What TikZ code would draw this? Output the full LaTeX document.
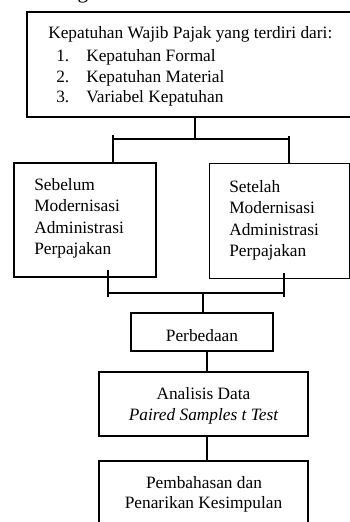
\documentclass[tikz,border=0pt]{standalone}
\usepackage{fontspec}
\setmainfont{Liberation Serif}
\usetikzlibrary{fit}
\newcommand\fsz{\fontsize{13}{15}\selectfont}
\tikzset{
  box/.style={draw, line width=1.1pt, inner sep=0pt},
  thinbox/.style={draw, line width=0.7pt, inner sep=0pt},
  conn/.style={line width=1.1pt},
  txt/.style={anchor=base west, inner sep=0pt, font=\fsz},
  ctxt/.style={anchor=base, inner sep=0pt, font=\fsz},
}
\begin{document}
\begin{tikzpicture}[x=0.75pt,y=-0.75pt]
\clip (0,0) rectangle (350,522);
\fill[white] (0,0) rectangle (350,522);
% fragment of heading above
\node[anchor=base, inner sep=0pt, font=\fontsize{16}{18}\selectfont] (hg) at (83,-1.5) {g};
% boxes
\node[box, fit={(27,12)(362,117)}] (top) {};
\node[box, fit={(14,163)(156,277)}] (left) {};
\node[thinbox, fit={(209,163)(349,278)}] (right) {};
\node[box, fit={(131,313)(273,351)}] (diff) {};
\node[box, fit={(99,372)(308,436)}] (anal) {};
\node[box, fit={(99,461)(308,540)}] (concl) {};
% texts
\node[txt] (t0) at (48,38) {Kepatuhan Wajib Pajak yang terdiri dari:};
\node[txt] (n1) at (56,61) {1.};
\node[txt] (n2) at (56,82) {2.};
\node[txt] (n3) at (56,102) {3.};
\node[txt] (i1) at (86,61) {Kepatuhan Formal};
\node[txt] (i2) at (86,82) {Kepatuhan Material};
\node[txt] (i3) at (86,102) {Variabel Kepatuhan};
\node[txt] (l1) at (34,190) {Sebelum};
\node[txt] (l2) at (34,211.5) {Modernisasi};
\node[txt] (l3) at (34,233) {Administrasi};
\node[txt] (l4) at (34,254.5) {Perpajakan};
\node[txt] (r1) at (229,192) {Setelah};
\node[txt] (r2) at (229,213.5) {Modernisasi};
\node[txt] (r3) at (229,235) {Administrasi};
\node[txt] (r4) at (229,256.5) {Perpajakan};
\node[ctxt] (d1) at (202,341) {Perbedaan};
\node[ctxt] (a1) at (203.5,399) {Analisis Data};
\node[ctxt] (a2) at (203.5,420) {\itshape Paired Samples t Test};
\node[ctxt] (c1) at (204,488) {Pembahasan dan};
\node[ctxt] (c2) at (203.5,508) {Penarikan Kesimpulan};
% junction coordinates
\coordinate (ja) at (195,139);
\coordinate (jl) at (113,139);
\coordinate (jr) at (289,139);
\coordinate (jlt) at (113,135);
\coordinate (jrt) at (289,136);
\coordinate (ka) at (203,293);
\coordinate (kl) at (108,293);
\coordinate (kr) at (284,293);
\coordinate (klt) at (108,297);
\coordinate (krt) at (284,297);
\coordinate (kls) at (108,270);
\coordinate (krs) at (284,273);
% connectors
\draw[conn] (top.south -| ja) -- (ja);
\draw[conn] (jl) -- (jr);
\draw[conn] (jlt) -- (left.north -| jlt);
\draw[conn] (jrt) -- (right.north -| jrt);
\draw[conn] (kls) -- (klt);
\draw[conn] (krs) -- (krt);
\draw[conn] (kl) -- (kr);
\draw[conn] (ka) -- (diff.north -| ka);
\draw[conn] (diff.south -| 207,0) -- (anal.north -| 207,0);
\draw[conn] (anal.south -| 207,0) -- (concl.north -| 207,0);
\end{tikzpicture}
\end{document}
